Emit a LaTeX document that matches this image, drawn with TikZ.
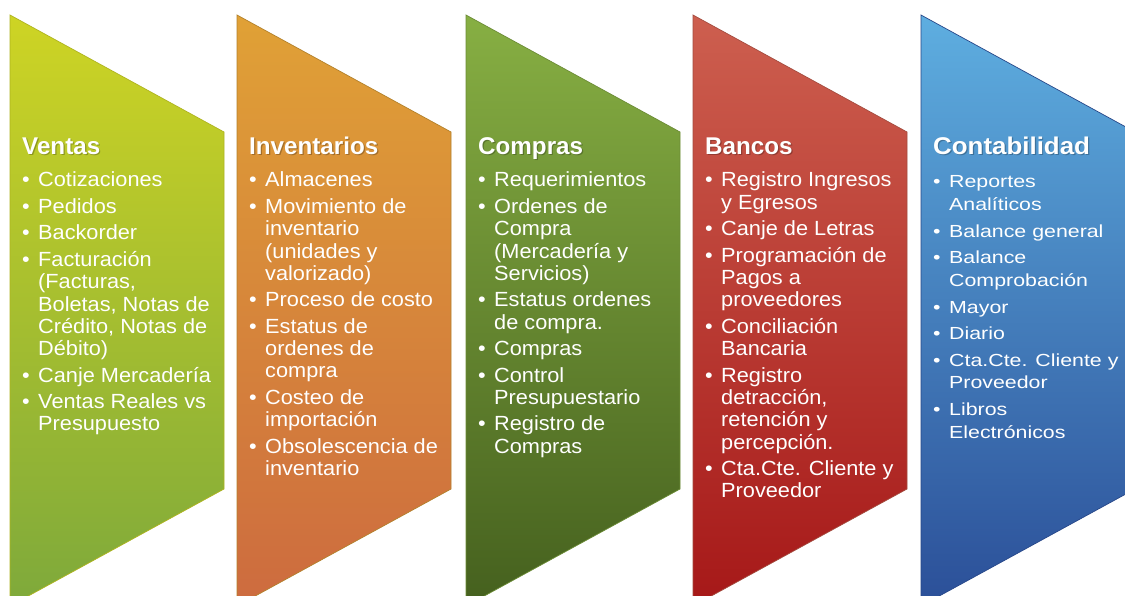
\documentclass[tikz,border=0pt]{standalone}
\usepackage{fontspec}
\setmainfont{Liberation Sans}
\newfontfamily\itemfont[FakeStretch=1.06]{Liberation Sans}
\newfontfamily\contfont[FakeStretch=1.22]{Liberation Sans}
\newfontfamily\conttitlefont[FakeStretch=1.07]{Liberation Sans}

\definecolor{venTop}{HTML}{CED424}
\definecolor{venBot}{HTML}{7EA93B}
\definecolor{invTop}{HTML}{E0A136}
\definecolor{invBot}{HTML}{CD6B3F}
\definecolor{comTop}{HTML}{87AF43}
\definecolor{comBot}{HTML}{45601E}
\definecolor{banTop}{HTML}{CD5F4F}
\definecolor{banBot}{HTML}{A61818}
\definecolor{conTop}{HTML}{5EAEE0}
\definecolor{conBot}{HTML}{2B4F98}

\newlength\bind
\setlength\bind{16pt}
\newcommand\itm[1]{\par\hangindent=\bind\hangafter=1\noindent\makebox[\bind][l]{\textbullet}#1}
\newcommand\colbody[2]{\parbox[t]{210pt}{#1\lineskiplimit=-100pt\parindent=0pt\parskip=4.2pt\raggedright #2\par}}
\newcommand\chev[4]{%
  \shade[top color=#2,bottom color=#3] (#1,15) -- ({#1+214},132) -- ({#1+214},489) -- (#1,606) -- cycle;
  \draw[#4,line width=0.7pt] (#1,15) -- ({#1+214},132) -- ({#1+214},489) -- (#1,606) -- cycle;}

\tikzset{
  ttl/.style={anchor=base west,inner sep=0pt,text=white,font=\bfseries\fontsize{24.2}{28}\selectfont},
  ttlshadow/.style={anchor=base west,inner sep=0pt,text=black,opacity=0.25,font=\bfseries\fontsize{24.2}{28}\selectfont},
  body/.style={anchor=base west,inner sep=0pt,text=white}
}

\begin{document}
\begin{tikzpicture}[x=1pt,y=-1pt]
\useasboundingbox (0,0) rectangle (1125,596);
\clip (0,0) rectangle (1125,596);
\fill[white] (0,0) rectangle (1125,596);

\chev{10}{venTop}{venBot}{venTop!85!black}
\chev{237}{invTop}{invBot}{invTop!80!black}
\chev{466}{comTop}{comBot}{comTop!80!black}
\chev{693}{banTop}{banBot}{banTop!80!black}
\chev{921}{conTop}{conBot}{conBot!90!black}

% titles
\node[ttlshadow] (tvs) at (23.2,155.7) {Ventas};
\node[ttl] (tv) at (22,154.5) {Ventas};
\node[ttlshadow] (tis) at (250.2,155.7) {Inventarios};
\node[ttl] (ti) at (249,154.5) {Inventarios};
\node[ttlshadow] (tcs) at (479.2,155.7) {Compras};
\node[ttl] (tc) at (478,154.5) {Compras};
\node[ttlshadow] (tbs) at (706.2,155.7) {Bancos};
\node[ttl] (tb) at (705,154.5) {Bancos};
\node[ttlshadow,font=\conttitlefont\bfseries\fontsize{24.2}{28}\selectfont] (tks) at (934.2,155.7) {Contabilidad};
\node[ttl,font=\conttitlefont\bfseries\fontsize{24.2}{28}\selectfont] (tk) at (933,154.5) {Contabilidad};

% bodies
\node[body] (bv) at (22,187) {\colbody{\itemfont\fontsize{20.5}{22.3}\selectfont}{%
\itm{Cotizaciones}
\itm{Pedidos}
\itm{Backorder}
\itm{Facturación\newline (Facturas,\newline Boletas, Notas de\newline Crédito, Notas de\newline Débito)}
\itm{Canje Mercadería}
\itm{Ventas Reales vs\newline Presupuesto}}};

\node[body] (bi) at (249,187) {\colbody{\itemfont\fontsize{20.5}{22.3}\selectfont}{%
\itm{Almacenes}
\itm{Movimiento de\newline inventario\newline (unidades y\newline valorizado)}
\itm{Proceso de costo}
\itm{Estatus de\newline ordenes de\newline compra}
\itm{Costeo de\newline importación}
\itm{Obsolescencia de\newline inventario}}};

\node[body] (bc) at (478,187) {\colbody{\itemfont\fontsize{20.5}{22.3}\selectfont}{%
\itm{Requerimientos}
\itm{Ordenes de\newline Compra\newline (Mercadería y\newline Servicios)}
\itm{Estatus ordenes\newline de compra.}
\itm{Compras}
\itm{Control\newline Presupuestario}
\itm{Registro de\newline Compras}}};

\node[body] (bb) at (705,187) {\colbody{\itemfont\fontsize{20.5}{22.3}\selectfont}{%
\itm{Registro Ingresos\newline y Egresos}
\itm{Canje de Letras}
\itm{Programación de\newline Pagos a\newline proveedores}
\itm{Conciliación\newline Bancaria}
\itm{Registro\newline detracción,\newline retención y\newline percepción.}
\itm{Cta.Cte. Cliente y\newline Proveedor}}};

\node[body] (bk) at (933,188) {\colbody{\contfont\fontsize{17.5}{22.5}\selectfont\parskip=4pt}{%
\itm{Reportes\newline Analíticos}
\itm{Balance general}
\itm{Balance\newline Comprobación}
\itm{Mayor}
\itm{Diario}
\itm{Cta.Cte. Cliente y\newline Proveedor}
\itm{Libros\newline Electrónicos}}};
\end{tikzpicture}
\end{document}
